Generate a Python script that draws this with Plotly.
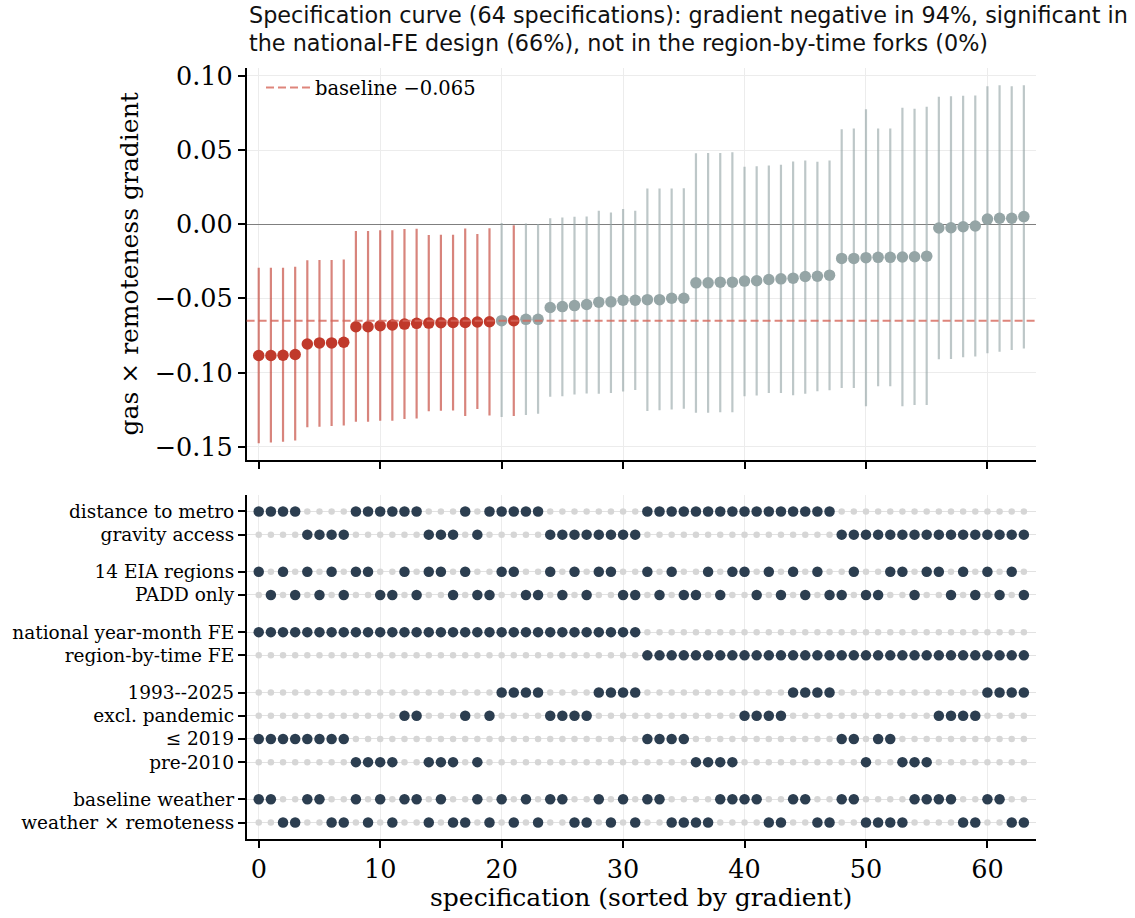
import plotly.graph_objects as go

# ---- estimates of the gas x remoteness gradient, sorted ascending ----
coef = [
    -0.0885, -0.0885, -0.0883, -0.0878, -0.0807, -0.0800, -0.0800, -0.0795,
    -0.0691, -0.0691, -0.0684, -0.0679, -0.0673, -0.0668, -0.0666, -0.0664,
    -0.0662, -0.0662, -0.0659, -0.0657, -0.0650, -0.0650, -0.0641, -0.0641,
    -0.0561, -0.0555, -0.0548, -0.0541, -0.0525, -0.0523, -0.0512, -0.0512,
    -0.0508, -0.0508, -0.0499, -0.0499, -0.0395, -0.0395, -0.0390, -0.0390,
    -0.0383, -0.0381, -0.0372, -0.0368, -0.0363, -0.0352, -0.0350, -0.0343,
    -0.0230, -0.0230, -0.0225, -0.0223, -0.0223, -0.0221, -0.0219, -0.0215,
    -0.0025, -0.0023, -0.0017, -0.0012, 0.0035, 0.0041, 0.0041, 0.0052,
]
ci_lo = [
    -0.1476, -0.1471, -0.1467, -0.1458, -0.1369, -0.1365, -0.1360, -0.1356,
    -0.1331, -0.1331, -0.1324, -0.1324, -0.1313, -0.1309, -0.1260, -0.1258,
    -0.1256, -0.1293, -0.1246, -0.1289, -0.1300, -0.1293, -0.1286, -0.1277,
    -0.1163, -0.1159, -0.1148, -0.1141, -0.1143, -0.1137, -0.1128, -0.1117,
    -0.1259, -0.1254, -0.1248, -0.1243, -0.1270, -0.1270, -0.1268, -0.1268,
    -0.1159, -0.1154, -0.1137, -0.1137, -0.1153, -0.1143, -0.1126, -0.1119,
    -0.1103, -0.1103, -0.1226, -0.1092, -0.1092, -0.1226, -0.1219, -0.1219,
    -0.0910, -0.0908, -0.0897, -0.0892, -0.0870, -0.0859, -0.0848, -0.0837,
]
ci_hi = [
    -0.0293, -0.0293, -0.0293, -0.0286, -0.0243, -0.0241, -0.0241, -0.0237,
    -0.0046, -0.0046, -0.0041, -0.0041, -0.0032, -0.0030, -0.0072, -0.0070,
    -0.0070, -0.0028, -0.0066, -0.0026, 0.0008, -0.0006, 0.0006, 0.0002,
    0.0041, 0.0046, 0.0050, 0.0052, 0.0092, 0.0079, 0.0103, 0.0092,
    0.0241, 0.0241, 0.0241, 0.0243, 0.0479, 0.0481, 0.0481, 0.0485,
    0.0388, 0.0392, 0.0397, 0.0401, 0.0423, 0.0430, 0.0421, 0.0430,
    0.0641, 0.0646, 0.0775, 0.0646, 0.0646, 0.0786, 0.0779, 0.0793,
    0.0859, 0.0863, 0.0866, 0.0868, 0.0930, 0.0937, 0.0930, 0.0937,
]
BASELINE = -0.065

# ---- specification choices: indices of the specifications using each option ----
distance_to_metro = [0, 1, 2, 3, 8, 9, 10, 11, 12, 13, 17, 19, 20, 21, 22, 23,
                     32, 33, 34, 35, 36, 37, 38, 39, 40, 41, 42, 43, 44, 45, 46, 47]
gravity_access = [4, 5, 6, 7, 14, 15, 16, 18, 24, 25, 26, 27, 28, 29, 30, 31,
                  48, 49, 50, 51, 52, 53, 54, 55, 56, 57, 58, 59, 60, 61, 62, 63]
eia_regions = [0, 2, 4, 6, 8, 9, 12, 14, 15, 17, 20, 21, 24, 26, 28, 29,
               32, 34, 37, 39, 40, 42, 44, 46, 49, 52, 53, 55, 56, 58, 60, 62]
padd_only = [1, 3, 5, 7, 10, 11, 13, 16, 18, 19, 22, 23, 25, 27, 30, 31,
             33, 35, 36, 38, 41, 43, 45, 47, 48, 50, 51, 54, 57, 59, 61, 63]
national_fe = [0, 1, 2, 3, 4, 5, 6, 7, 8, 9, 10, 11, 12, 13, 14, 15,
               16, 17, 18, 19, 20, 21, 22, 23, 24, 25, 26, 27, 28, 29, 30, 31]
region_time_fe = [32, 33, 34, 35, 36, 37, 38, 39, 40, 41, 42, 43, 44, 45, 46, 47,
                  48, 49, 50, 51, 52, 53, 54, 55, 56, 57, 58, 59, 60, 61, 62, 63]
sample_full = [20, 21, 22, 23, 28, 29, 30, 31, 44, 45, 46, 47, 60, 61, 62, 63]
sample_excl_pandemic = [12, 13, 17, 19, 24, 25, 26, 27, 40, 41, 42, 43, 56, 57, 58, 59]
sample_to_2019 = [0, 1, 2, 3, 4, 5, 6, 7, 32, 33, 34, 35, 48, 49, 51, 52]
sample_pre_2010 = [8, 9, 10, 11, 14, 15, 16, 18, 36, 37, 38, 39, 50, 53, 54, 55]
weather_baseline = [0, 1, 4, 5, 8, 10, 12, 13, 15, 18, 20, 22, 24, 25, 28, 30,
                    32, 33, 38, 39, 40, 41, 44, 45, 48, 49, 54, 55, 56, 57, 60, 61]
weather_remote = [2, 3, 6, 7, 9, 11, 14, 16, 17, 19, 21, 23, 26, 27, 29, 31,
                  34, 35, 36, 37, 42, 43, 46, 47, 50, 51, 52, 53, 58, 59, 62, 63]

option_groups = [
    [("distance to metro", distance_to_metro), ("gravity access", gravity_access)],
    [("14 EIA regions", eia_regions), ("PADD only", padd_only)],
    [("national year-month FE", national_fe), ("region-by-time FE", region_time_fe)],
    [("1993--2025", sample_full), ("excl. pandemic", sample_excl_pandemic),
     ("≤ 2019", sample_to_2019), ("pre-2010", sample_pre_2010)],
    [("baseline weather", weather_baseline), ("weather × remoteness", weather_remote)],
]

RED, RED_CI = "#c0392b", "rgba(192,57,43,0.62)"
GREY, GREY_CI = "#95a5a6", "rgba(149,165,166,0.62)"
BASE_COL = "rgba(214,102,90,0.8)"
DARK, LIGHT = "#2c3e50", "#d6d6d6"
SERIF, SANS = "DejaVu Serif", "DejaVu Sans"

n = len(coef)
spec = list(range(n))
sig = [(hi < 0) or (lo > 0) for lo, hi in zip(ci_lo, ci_hi)]

# headline shares for the two-line title
pct_neg = round(100 * sum(c < 0 for c in coef) / n)
nat_sig = round(100 * sum(sig[i] for i in national_fe) / len(national_fe))
reg_sig = round(100 * sum(sig[i] for i in region_time_fe) / len(region_time_fe))
title_lines = [
    f"Specification curve ({n} specifications): gradient negative in {pct_neg}%, significant in",
    f"the national-FE design ({nat_sig}%), not in the region-by-time forks ({reg_sig}%)",
]

fig = go.Figure()

# confidence intervals, coloured by significance
for flag, col in ((True, RED_CI), (False, GREY_CI)):
    xs, ys = [], []
    for i in spec:
        if sig[i] == flag:
            xs += [i, i, None]
            ys += [ci_lo[i], ci_hi[i], None]
    fig.add_trace(go.Scatter(x=xs, y=ys, mode="lines", line=dict(color=col, width=2.2),
                             hoverinfo="skip", showlegend=False, xaxis="x", yaxis="y"))

# baseline reference (legend entry; the line itself is a shape across the panel)
fig.add_trace(go.Scatter(x=[None], y=[None], mode="lines",
                         name=f"baseline {BASELINE:.3f}".replace("-", "−"),
                         line=dict(color=BASE_COL, width=2, dash="8px,4px"),
                         xaxis="x", yaxis="y"))
fig.add_shape(type="line", xref="x domain", yref="y", x0=0, x1=1, y0=BASELINE, y1=BASELINE,
              line=dict(color=BASE_COL, width=2, dash="8px,4px"), layer="above")

for flag, col in ((True, RED), (False, GREY)):
    idx = [i for i in spec if sig[i] == flag]
    fig.add_trace(go.Scatter(x=idx, y=[coef[i] for i in idx], mode="markers",
                             marker=dict(color=col, size=11.5, line=dict(width=0)),
                             showlegend=False, xaxis="x", yaxis="y"))

# option matrix
row_pos, row_txt = [], []
pos = 0.0
for g in option_groups:
    for label, _ in g:
        row_pos.append(pos)
        row_txt.append(label)
        pos += 1.0
    pos += 0.6
rows = [opt for g in option_groups for opt in g]

off_x, off_y, on_x, on_y = [], [], [], []
for (label, active), y in zip(rows, row_pos):
    act = set(active)
    for i in spec:
        if i in act:
            on_x.append(i); on_y.append(y)
        else:
            off_x.append(i); off_y.append(y)
fig.add_trace(go.Scatter(x=off_x, y=off_y, mode="markers",
                         marker=dict(color=LIGHT, size=6.5, line=dict(width=0)),
                         showlegend=False, xaxis="x2", yaxis="y2"))
fig.add_trace(go.Scatter(x=on_x, y=on_y, mode="markers",
                         marker=dict(color=DARK, size=10.5, line=dict(width=0)),
                         showlegend=False, xaxis="x2", yaxis="y2"))

W, H = 1135, 918
x_dom = [246.6 / W, 1036 / W]
axis_common = dict(showline=True, linecolor="black", linewidth=1.5, ticks="outside",
                   ticklen=7, tickwidth=1.5, tickcolor="black",
                   tickfont=dict(family=SERIF, size=25.5, color="black"))
xticks = [0, 10, 20, 30, 40, 50, 60]

title_ann = [
    dict(text=line, x=247 / W, y=1 - y_px / H, xref="paper", yref="paper", xanchor="left",
         yanchor="middle", showarrow=False, font=dict(family=SANS, size=22.3, color="#111111"))
    for line, y_px in zip(title_lines, (8, 36))
]

fig.update_layout(
    width=W, height=H, margin=dict(l=0, r=0, t=0, b=0),
    paper_bgcolor="white", plot_bgcolor="white",
    xaxis=dict(domain=x_dom, range=[-1, 64], tickvals=xticks, showticklabels=False,
               showgrid=True, gridcolor="#ececec", gridwidth=1, zeroline=False, anchor="y",
               **axis_common),
    yaxis=dict(domain=[1 - 457.3 / H, 1 - 61.7 / H], range=[-0.1588, 0.1053],
               tickvals=[-0.15, -0.10, -0.05, 0.0, 0.05, 0.10], tickformat=".2f",
               showgrid=True, gridcolor="#ececec", gridwidth=1,
               zeroline=True, zerolinecolor="#7f7f7f", zerolinewidth=1.4, anchor="x",
               **axis_common),
    xaxis2=dict(domain=x_dom, range=[-1, 64], tickvals=xticks,
                showgrid=True, gridcolor="#ececec", gridwidth=1, zeroline=False, anchor="y2",
                **axis_common),
    yaxis2=dict(domain=[1 - 840 / H, 1 - 493 / H], range=[14.1, -0.7],
                tickvals=row_pos, ticktext=row_txt,
                showgrid=True, gridcolor="#e2e2e2", gridwidth=1.2, zeroline=False, anchor="x2",
                **{**axis_common, "tickfont": dict(family=SERIF, size=18.5, color="black")}),
    legend=dict(x=261 / W, y=1 - 62 / H, xanchor="left", yanchor="top", bgcolor="rgba(0,0,0,0)",
                itemwidth=44, font=dict(family=SERIF, size=19.5, color="black")),
    annotations=title_ann + [
        dict(text="gas × remoteness gradient", textangle=-90, x=129 / W, y=1 - 260 / H,
             xref="paper", yref="paper", xanchor="center", yanchor="middle", showarrow=False,
             font=dict(family=SERIF, size=25, color="black")),
        dict(text="specification (sorted by gradient)", x=641 / W, y=1 - 899 / H,
             xref="paper", yref="paper", xanchor="center", yanchor="middle", showarrow=False,
             font=dict(family=SERIF, size=25, color="black")),
    ],
)

fig.write_html("out.html")
